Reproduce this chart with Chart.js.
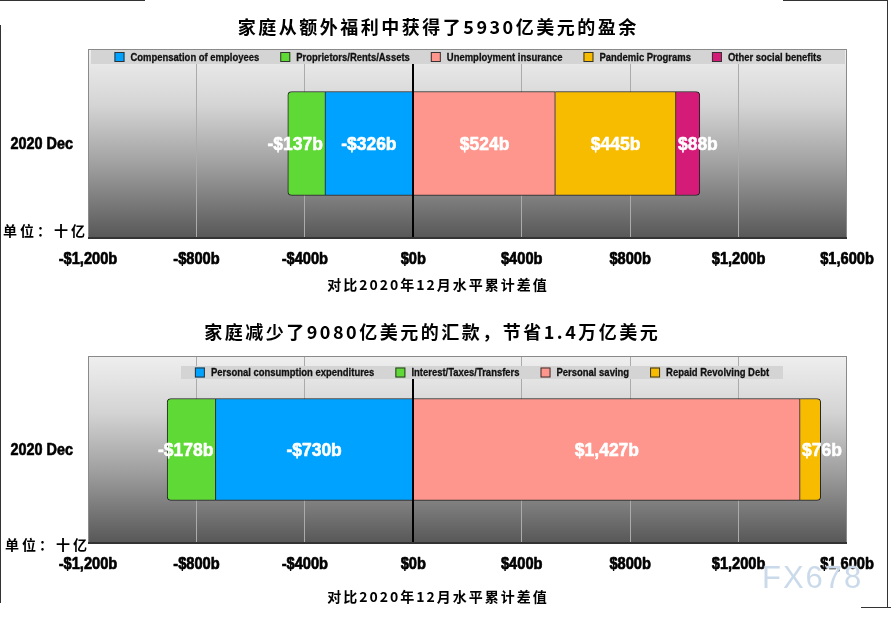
<!DOCTYPE html>
<html>
<head>
<meta charset="utf-8">
<script src="https://cdn.jsdelivr.net/npm/chart.js@4.4.1/dist/chart.umd.min.js"></script>
<style>
body { margin: 0; width: 891px; height: 617px; background: #fff; position: relative; overflow: hidden; }
canvas { position: absolute; left: 0; }
#c1 { top: 0; }
#c2 { top: 300px; }
.ln { position: absolute; background: #333; }
#wm { position: absolute; left: 762px; top: 560px; font: 31px "Liberation Sans", sans-serif; letter-spacing: 2px;
      color: #cbdaea; text-shadow: 0 0 2px #fff; }
</style>
</head>
<body>
<canvas id="c1" width="891" height="300"></canvas>
<canvas id="c2" width="891" height="317"></canvas>
<div class="ln" style="left:0;top:0;width:145px;height:1px"></div>
<div class="ln" style="left:0;top:25px;width:1px;height:578px"></div>
<div class="ln" style="left:783px;top:0;width:105px;height:1px"></div>
<div class="ln" style="left:887px;top:0;width:1px;height:607px"></div>
<div class="ln" style="left:861px;top:607px;width:30px;height:1px"></div>
<div id="wm">FX678</div>
<script>
// data
const categories = ["2020 Dec"];
const xTicks = [-1200, -800, -400, 0, 400, 800, 1200, 1600];

const incomeTitle = "家庭从额外福利中获得了5930亿美元的盈余";
const incomeNames = ["Compensation of employees", "Proprietors/Rents/Assets", "Unemployment insurance", "Pandemic Programs", "Other social benefits"];
const incomeValues = [-326, -137, 524, 445, 88];

const spendTitle = "家庭减少了9080亿美元的汇款，节省1.4万亿美元";
const spendNames = ["Personal consumption expenditures", "Interest/Taxes/Transfers", "Personal saving", "Repaid Revolving Debt"];
const spendValues = [-730, -178, 1427, 76];

const unitLabel = "单位：十亿";
const axisTitle = "对比2020年12月水平累计差值";

// styles
const palette = ["#00a2ff", "#5fd935", "#ff968d", "#f7bb00", "#d51b78"];
const SANS = '"Liberation Sans", Arial, sans-serif';
const CJK = '"Noto Sans CJK SC", sans-serif';

function money(v) {
    return (v < 0 ? "-$" : "$") + Math.abs(v).toLocaleString("en-US") + "b";
}

// draw text char by char with extra spacing
function spacedText(ctx, text, x, y, gap, align) {
    const chars = [...text];
    const widths = chars.map(c => ctx.measureText(c).width);
    const total = widths.reduce((a, b) => a + b, 0) + gap * (chars.length - 1);
    let cx = align === "center" ? x - total / 2 : x;
    ctx.textAlign = "left";
    chars.forEach((c, i) => {
        ctx.fillText(c, cx, y);
        cx += widths[i] + gap;
    });
}

// condensed bold text (squeezed horizontally), optional stroke to make it heavier
function narrowWidth(ctx, text, size, sx) {
    ctx.font = "bold " + size + "px " + SANS;
    return ctx.measureText(text).width * sx;
}
function narrowText(ctx, text, x, y, size, sx, align, heavy) {
    const w = narrowWidth(ctx, text, size, sx);
    const left = align === "center" ? x - w / 2 : align === "right" ? x - w : x;
    ctx.save();
    ctx.translate(left, y);
    ctx.scale(sx, 1);
    ctx.textAlign = "left";
    ctx.textBaseline = "middle";
    ctx.fillText(text, 0, 0);
    if (heavy) {
        ctx.strokeStyle = ctx.fillStyle;
        ctx.lineWidth = heavy;
        ctx.lineJoin = "round";
        ctx.strokeText(text, 0, 0);
    }
    ctx.restore();
    return w;
}

const decorPlugin = {
    id: "decor",
    beforeDraw(chart, args, opts) {
        const ctx = chart.ctx;
        const a = chart.chartArea;
        ctx.save();
        const g = ctx.createLinearGradient(0, a.top, 0, a.bottom);
        g.addColorStop(0, "#efefef");
        g.addColorStop(0.3, "#d4d4d4");
        g.addColorStop(0.6, "#a2a2a2");
        g.addColorStop(1, "#575757");
        ctx.fillStyle = g;
        ctx.fillRect(a.left, a.top, a.right - a.left, a.bottom - a.top);

        ctx.fillStyle = "#000";
        ctx.textBaseline = "middle";
        ctx.font = "bold 18px " + CJK;
        spacedText(ctx, opts.title, opts.titleX, opts.titleY, 2.5, "center");
        ctx.font = "bold 14px " + CJK;
        spacedText(ctx, unitLabel, opts.unitX, opts.unitY, 3, "left");
        spacedText(ctx, axisTitle, 437, opts.axisY, 2, "center");

        // tick labels and category label
        const xs = chart.scales.x;
        xTicks.forEach(v => {
            narrowText(ctx, money(v), xs.getPixelForValue(v), a.bottom + 21, 17, 0.86, "center", 0.7);
        });
        const ys = chart.scales.y;
        categories.forEach((c, i) => {
            narrowText(ctx, c, a.left - 15, ys.getPixelForValue(i) + 1, 16, 0.9, "right", 0.6);
        });
        ctx.restore();
    },
    beforeDatasetsDraw(chart, args, opts) {
        const ctx = chart.ctx;
        const lg = opts.legend;
        ctx.save();
        ctx.fillStyle = "#d4d4d4";
        ctx.fillRect(lg.x0, lg.y0, lg.x1 - lg.x0, lg.y1 - lg.y0);
        const items = chart.data.datasets.map(d => ({ name: d.label, color: d.backgroundColor, w: narrowWidth(ctx, d.label, 11, 0.86) }));
        const total = items.reduce((s, it) => s + 16 + it.w, 0) + 21 * (items.length - 1);
        let x = (lg.x0 + lg.x1) / 2 - total / 2;
        const cy = (lg.y0 + lg.y1) / 2;
        items.forEach(it => {
            ctx.fillStyle = it.color;
            ctx.fillRect(x, cy - 5, 10, 10);
            ctx.strokeStyle = "#333";
            ctx.lineWidth = 1;
            ctx.strokeRect(x + 0.5, cy - 4.5, 9, 9);
            ctx.fillStyle = "#111";
            narrowText(ctx, it.name, x + 16, cy + 0.5, 11, 0.86, "left", 0.3);
            x += 16 + it.w + 21;
        });
        ctx.restore();
    },
    afterDatasetsDraw(chart, args, opts) {
        const ctx = chart.ctx;
        const a = chart.chartArea;
        ctx.save();
        // zero line
        const zx = Math.round(chart.scales.x.getPixelForValue(0));
        ctx.strokeStyle = "#000";
        ctx.lineWidth = 2;
        ctx.beginPath();
        ctx.moveTo(zx, opts.legend.y1);
        ctx.lineTo(zx, a.bottom);
        ctx.stroke();

        // value labels
        ctx.fillStyle = "#fff";
        chart.data.datasets.forEach((ds, i) => {
            const el = chart.getDatasetMeta(i).data[0];
            const v = ds.data[0];
            const txt = money(v);
            const w = narrowWidth(ctx, txt, 19, 0.92);
            const left = Math.min(el.x, el.base), right = Math.max(el.x, el.base);
            if (w < right - left - 4) {
                narrowText(ctx, txt, (left + right) / 2, el.y + 1, 19, 0.92, "center", 0.6);
            } else if (v < 0) {
                narrowText(ctx, txt, right - 2, el.y + 1, 19, 0.92, "right", 0.6);
            } else {
                narrowText(ctx, txt, left + 2, el.y + 1, 19, 0.92, "left", 0.6);
            }
        });

        // plot border
        ctx.strokeStyle = "#8a8a8a";
        ctx.lineWidth = 1;
        ctx.strokeRect(a.left + 0.5, a.top + 0.5, a.right - a.left - 1, a.bottom - a.top - 1);
        ctx.strokeStyle = "#333";
        ctx.lineWidth = 2;
        ctx.beginPath();
        ctx.moveTo(a.left, a.bottom);
        ctx.lineTo(a.right, a.bottom);
        ctx.stroke();
        ctx.restore();
    }
};

function makeChart(id, names, values, decor) {
    return new Chart(document.getElementById(id), {
        type: "bar",
        data: {
            labels: categories,
            datasets: names.map((n, i) => ({
                label: n,
                data: [values[i]],
                backgroundColor: palette[i],
                borderColor: "#222",
                borderWidth: 1,
                borderRadius: 4,
                barThickness: decor.barThickness
            }))
        },
        options: {
            indexAxis: "y",
            responsive: false,
            animation: false,
            layout: { padding: { top: decor.top, right: 44, left: 0, bottom: 0 } },
            scales: {
                x: {
                    stacked: true,
                    min: -1200,
                    max: 1600,
                    afterBuildTicks: s => { s.ticks = xTicks.map(v => ({ value: v })); },
                    afterFit: s => { s.height = decor.axisHeight; },
                    ticks: { display: false },
                    grid: {
                        drawTicks: false,
                        color: c => (c.tick && [-1200, 0, 1600].includes(c.tick.value)) ? "rgba(0,0,0,0)" : "#ababab"
                    },
                    border: { display: false }
                },
                y: {
                    stacked: true,
                    afterFit: s => { s.width = 88; },
                    ticks: { display: false },
                    grid: { display: false },
                    border: { display: false }
                }
            },
            plugins: {
                legend: { display: false },
                tooltip: { enabled: false },
                decor: decor
            }
        },
        plugins: [decorPlugin]
    });
}

makeChart("c1", incomeNames, incomeValues, {
    title: incomeTitle, titleX: 437, titleY: 27,
    unitX: 3, unitY: 231, axisY: 285,
    top: 49, axisHeight: 62, barThickness: 104,
    legend: { x0: 91, x1: 845, y0: 50, y1: 64 }
});

makeChart("c2", spendNames, spendValues, {
    title: spendTitle, titleX: 431, titleY: 32,
    unitX: 5, unitY: 245, axisY: 297,
    top: 56, axisHeight: 74, barThickness: 102,
    legend: { x0: 181, x1: 783, y0: 66, y1: 79 }
});
</script>
</body>
</html>
